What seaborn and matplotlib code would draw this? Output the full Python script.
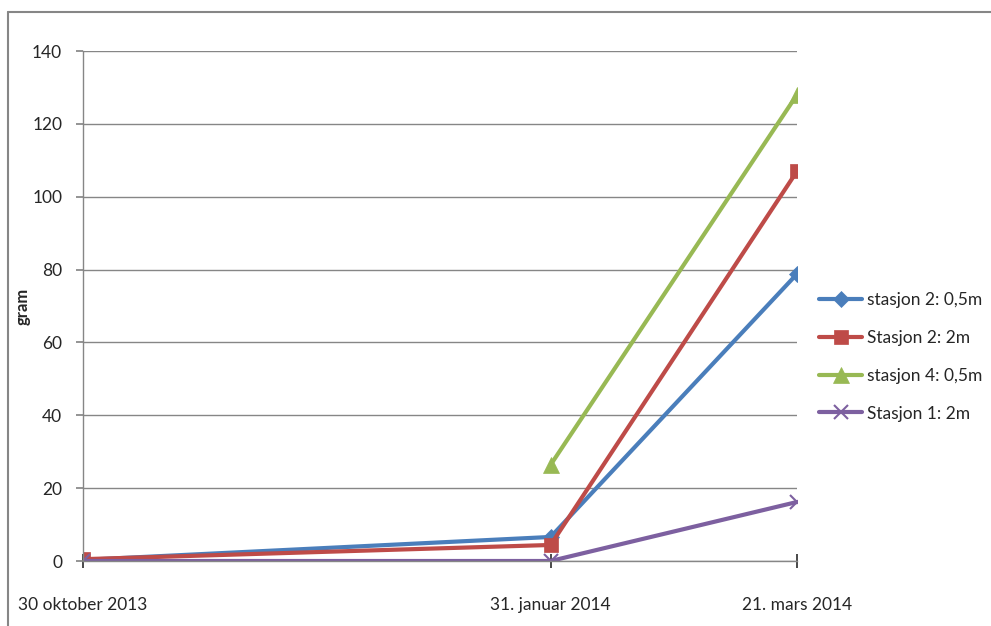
"""
Vekst per stasjon (gram) - tre målinger
"""

import pandas as pd
import numpy as np
import matplotlib
matplotlib.use('Agg')
import matplotlib.pyplot as plt
from matplotlib.lines import Line2D
import seaborn as sns

# Data
dates = pd.to_datetime(['2013-10-30', '2014-01-31', '2014-03-21'])
date_labels = ['30 oktober 2013', '31. januar 2014', '21. mars 2014']
series_names = ['stasjon 2: 0,5m', 'Stasjon 2: 2m', 'stasjon 4: 0,5m', 'Stasjon 1: 2m']
st2_05 = [0.3, 6.6, 78.8]
st2_2 = [0.5, 4.4, 107.0]
st4_05 = [np.nan, 26.4, 128.0]
st1_2 = [0.0, 0.0, 16.2]

colors = ['#4A7EBB', '#BE4B48', '#98B954', '#7D60A0']
markers = ['D', 's', '^', 'x']
msizes = [8, 10, 11, 10]

df = pd.DataFrame({
    'dato': list(dates) * 4,
    'gram': st2_05 + st2_2 + st4_05 + st1_2,
    'serie': np.repeat(series_names, len(dates)),
})

sns.set_theme(style='white')
plt.rcParams['font.family'] = ['Lato', 'DejaVu Sans']

fig = plt.figure(figsize=(9.91, 6.26), dpi=100)
ax = fig.add_axes([83 / 991, 1 - 561 / 626, (797 - 83) / 991, (561 - 51) / 626])

for name, col, mk, ms in zip(series_names, colors, markers, msizes):
    sub = df[df['serie'] == name].dropna()
    sns.lineplot(data=sub, x='dato', y='gram', ax=ax, color=col, lw=3,
                 marker=mk, markersize=ms, markeredgecolor=col,
                 markeredgewidth=1.5 if mk == 'x' else 0.5, legend=False)

ax.set_xlim(dates[0], dates[-1])
ax.set_ylim(0, 140)
ax.set_yticks(range(0, 141, 20))
ax.set_xticks(dates)
ax.set_xticklabels(date_labels)
ax.yaxis.grid(True, color='#868686', lw=1)
ax.set_axisbelow(True)
ax.set_xlabel('')
ax.set_ylabel('gram', fontsize=12, fontweight='bold', labelpad=1)

for s in ['top', 'right']:
    ax.spines[s].set_visible(False)
for s in ['left', 'bottom']:
    ax.spines[s].set_color('#868686')
    ax.spines[s].set_linewidth(1)

ax.tick_params(axis='y', which='both', left=True, direction='out', length=5,
               color='#868686', labelsize=12.5, pad=10)
ax.tick_params(axis='x', which='both', bottom=True, direction='inout', length=10,
               color='#333333', labelsize=12.5, pad=21)

handles = [Line2D([0], [0], color=c, lw=3, marker=m, markersize=s,
                  markeredgecolor=c, markeredgewidth=1.5 if m == 'x' else 0.5)
           for c, m, s in zip(colors, markers, msizes)]
fig.legend(handles, series_names, loc='center left',
           bbox_to_anchor=(812 / 991, 1 - 357 / 626), frameon=False,
           fontsize=12.5, handlelength=2.5, handletextpad=0.25, labelspacing=1.25,
           borderaxespad=0)

# ramme rundt diagrammet
fig.add_artist(Line2D([8 / 991, 1], [1 - 12 / 626] * 2, color='#868686', lw=1.5))
fig.add_artist(Line2D([8 / 991] * 2, [0, 1 - 12 / 626], color='#868686', lw=1.5))

fig.savefig('out.png', dpi=100, facecolor='white')
plt.close()
